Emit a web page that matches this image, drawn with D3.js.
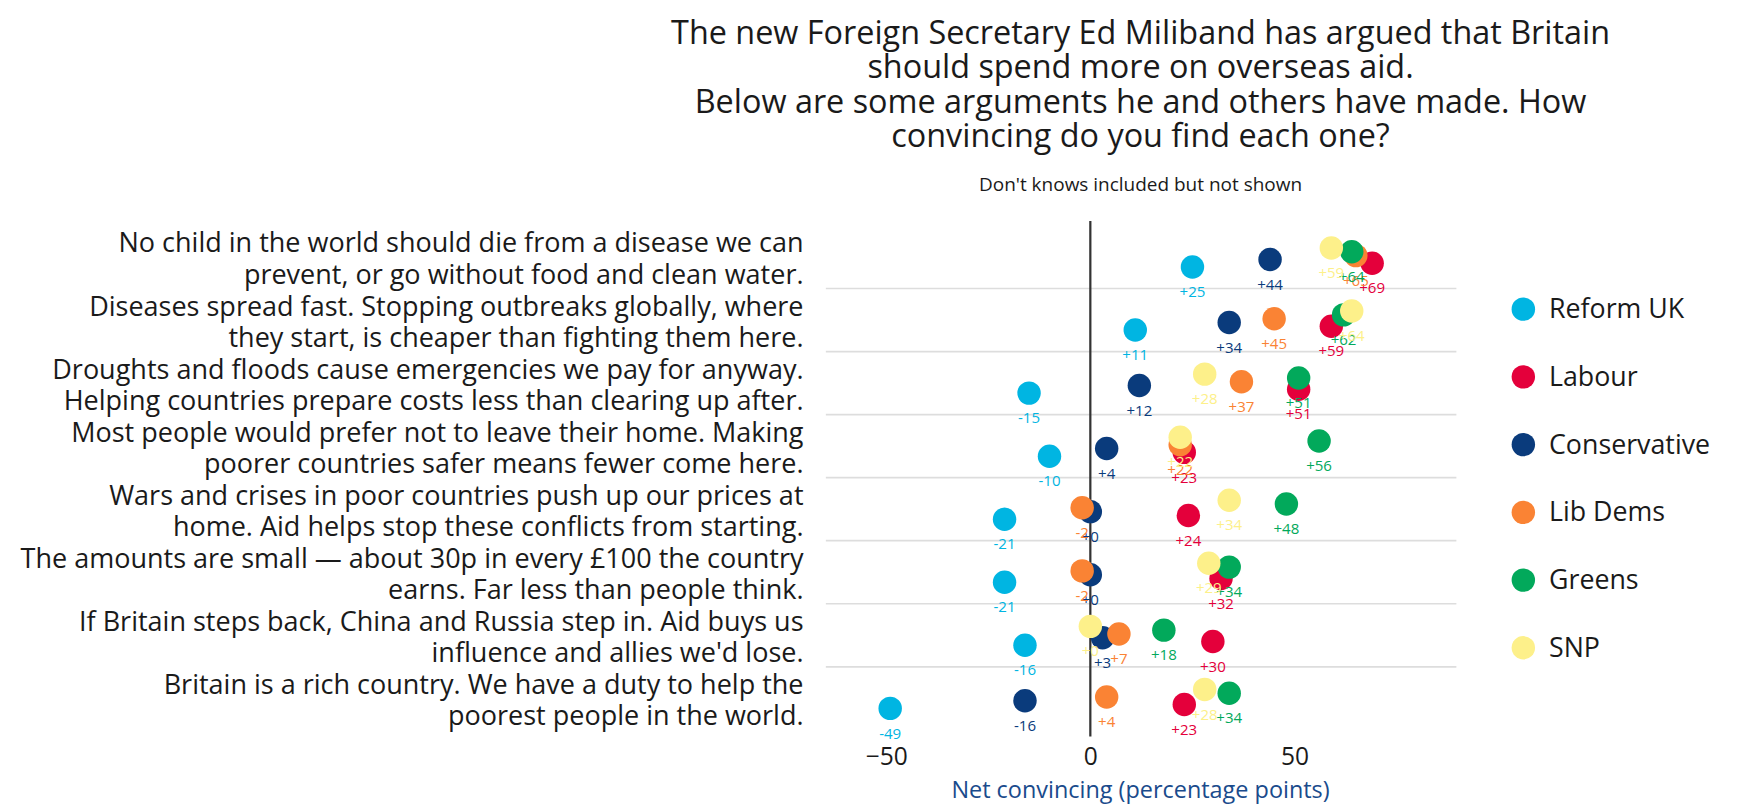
<!DOCTYPE html><html><head><meta charset="utf-8"><script src="https://cdn.jsdelivr.net/npm/d3@7"></script>
<style>body{margin:0;background:#fff}text{font-family:"Open Sans",sans-serif}</style></head><body><svg id="c" width="1750" height="806"></svg>
<script>
const categories=[
["No child in the world should die from a disease we can","prevent, or go without food and clean water."],
["Diseases spread fast. Stopping outbreaks globally, where","they start, is cheaper than fighting them here."],
["Droughts and floods cause emergencies we pay for anyway.","Helping countries prepare costs less than clearing up after."],
["Most people would prefer not to leave their home. Making","poorer countries safer means fewer come here."],
["Wars and crises in poor countries push up our prices at","home. Aid helps stop these conflicts from starting."],
["The amounts are small — about 30p in every £100 the country","earns. Far less than people think."],
["If Britain steps back, China and Russia step in. Aid buys us","influence and allies we'd lose."],
["Britain is a rich country. We have a duty to help the","poorest people in the world."]];
const parties=["Reform UK","Labour","Conservative","Lib Dems","Greens","SNP"];
const colors=["#00b5e2","#e4003b","#0a3b7c","#fa8334","#02a95b","#fdf08a"];
const reform=[25,11,-15,-10,-21,-21,-16,-49];
const labour=[69,59,51,23,24,32,30,23];
const conservative=[44,34,12,4,0,0,3,-16];
const libdems=[65,45,37,22,-2,-2,7,4];
const greens=[64,62,51,56,48,34,18,34];
const snp=[59,64,28,22,34,29,0,28];
const series=[reform,labour,conservative,libdems,greens,snp];
const ticks=[-50,0,50];
const svg=d3.select("#c").append("g").attr("transform","scale(1.116)");
const x=d3.scaleLinear().domain([-50,50]).range([794,1160]);
const y=d3.scaleBand().domain(d3.range(8)).range([202,654]);
const off=d3.scaleLinear().domain([0,5]).range([9,-8]);
const W=500,T="#1a1a1a";
const title=["The new Foreign Secretary Ed Miliband has argued that Britain","should spend more on overseas aid.","Below are some arguments he and others have made. How","convincing do you find each one?"];
title.forEach((t,i)=>svg.append("text").attr("x",1022).attr("y",39+i*31).attr("text-anchor","middle").attr("font-size",29).attr("font-weight",W).attr("fill",T).text(t));
svg.append("text").attr("x",1022).attr("y",171).attr("text-anchor","middle").attr("font-size",17).attr("font-weight",W).attr("fill",T).text("Don't knows included but not shown");
for(let i=1;i<8;i++)svg.append("line").attr("x1",740).attr("x2",1305).attr("y1",y(i)).attr("y2",y(i)).attr("stroke","#ddd").attr("stroke-width",1.5);
svg.append("line").attr("x1",x(0)).attr("x2",x(0)).attr("y1",198).attr("y2",660).attr("stroke","#333").attr("stroke-width",2);
categories.forEach((c,i)=>{const cy=y(i)+y.bandwidth()/2;c.forEach((l,j)=>svg.append("text").attr("x",720).attr("y",cy-4+j*28).attr("text-anchor","end").attr("font-size",24.2).attr("font-weight",W).attr("fill",T).text(l));});
series.forEach((s,p)=>s.forEach((v,i)=>{const cy=y(i)+y.bandwidth()/2+off(p);svg.append("circle").attr("cx",x(v)).attr("cy",cy).attr("r",10.5).attr("fill",colors[p]);}));
series.forEach((s,p)=>s.forEach((v,i)=>{const cy=y(i)+y.bandwidth()/2+off(p);svg.append("text").attr("x",x(v)).attr("y",cy+27).attr("text-anchor","middle").attr("font-size",13.5).attr("font-weight",W).attr("fill",colors[p]).text((v>=0?"+":"")+v);}));
const ax=svg.append("g").attr("transform","translate(0,666)").call(d3.axisBottom(x).tickValues(ticks).tickSize(0).tickPadding(0));
ax.select(".domain").remove();ax.selectAll("text").attr("font-size",22).attr("font-weight",W).attr("fill",T).attr("font-family","'Open Sans',sans-serif").attr("dy","0.9em");
svg.append("text").attr("x",1022).attr("y",715).attr("text-anchor","middle").attr("font-size",21).attr("font-weight",W).attr("fill","#1a4b8c").text("Net convincing (percentage points)");
parties.forEach((p,i)=>{const ly=277+i*60.7;svg.append("circle").attr("cx",1365).attr("cy",ly).attr("r",10.5).attr("fill",colors[i]);svg.append("text").attr("x",1388).attr("y",ly+8).attr("font-size",24).attr("font-weight",W).attr("fill",T).text(p);});
</script></body></html>
